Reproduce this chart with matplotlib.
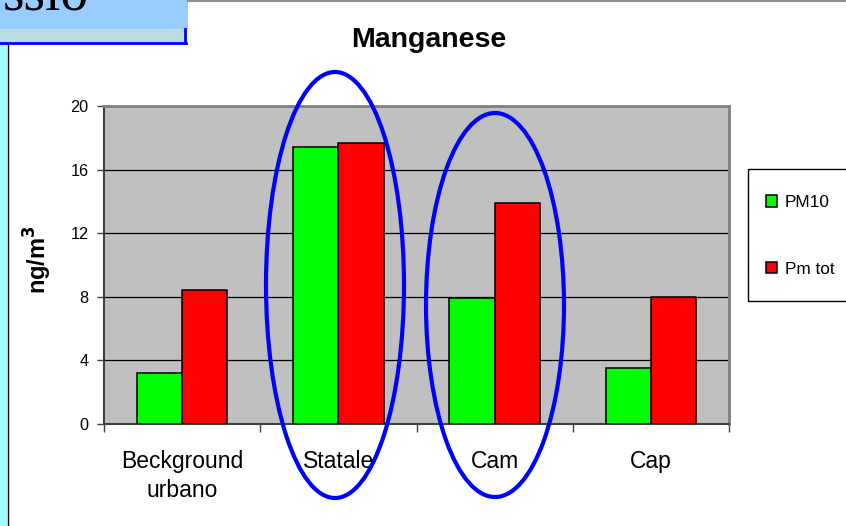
import numpy as np
import matplotlib.pyplot as plt
from matplotlib.patches import Rectangle, Ellipse
from matplotlib.lines import Line2D

categories = ["Beckground\nurbano", "Statale", "Cam", "Cap"]
pm10 = [3.2, 17.4, 7.9, 3.5]
pmtot = [8.4, 17.7, 13.9, 8.0]
series_names = ["PM10", "Pm tot"]
yticks = [0, 4, 8, 12, 16, 20]

W, H = 846, 526
plt.rcParams['font.family'] = ['Liberation Sans', 'DejaVu Sans']

fig = plt.figure(figsize=(W / 100, H / 100), dpi=100)


def fx(x):
    return x / W


def fy(y):
    return 1 - y / H


# slide decorations
fig.add_artist(Rectangle((0, fy(29)), fx(188), 29 / H, transform=fig.transFigure,
                         facecolor="#99ccff", edgecolor="none", zorder=1))
fig.add_artist(Rectangle((0, fy(43)), fx(186), 14 / H, transform=fig.transFigure,
                         facecolor="#b8dee0", edgecolor="none", zorder=1))
fig.add_artist(Line2D([0, fx(186)], [fy(43), fy(43)], transform=fig.transFigure,
                      color="#0000ff", lw=2, zorder=2))
fig.add_artist(Line2D([fx(185), fx(185)], [fy(29), fy(43)], transform=fig.transFigure,
                      color="#0000ff", lw=2, zorder=2))
fig.add_artist(Rectangle((0, 0), fx(7), fy(44), transform=fig.transFigure,
                         facecolor="#a0ffff", edgecolor="none", zorder=1))
fig.add_artist(Line2D([fx(7.5), fx(7.5)], [0, fy(44)], transform=fig.transFigure,
                      color="black", lw=1, zorder=2))
fig.add_artist(Line2D([fx(188), 1], [fy(0.5), fy(0.5)], transform=fig.transFigure,
                      color="#909090", lw=1.5, zorder=2))
fig.text(fx(3), fy(10), "ssio", family="Liberation Serif", fontsize=40,
         va="baseline", ha="left", zorder=3)

ax = fig.add_axes([fx(104), fy(424), fx(729) - fx(104), (424 - 106) / H])
ax.set_facecolor("#c0c0c0")

x = np.arange(len(categories))
bw = 0.29
b1 = ax.bar(x - bw / 2, pm10, bw, color="#00ff00", edgecolor="black", lw=1.1,
            label=series_names[0], zorder=3)
b2 = ax.bar(x + bw / 2, pmtot, bw, color="#ff0000", edgecolor="black", lw=1.1,
            label=series_names[1], zorder=3)

ax.set_xlim(-0.5, len(categories) - 0.5)
ax.set_ylim(0, 20)
ax.set_yticks(yticks)
ax.set_yticklabels([str(v) for v in yticks], fontsize=11.7)
ax.yaxis.grid(True, color="black", lw=0.9)
ax.set_axisbelow(True)

ax.set_xticks(np.arange(len(categories) + 1) - 0.5)
ax.set_xticklabels([])
ax.set_xticks(x, minor=True)
ax.set_xticklabels(categories, minor=True, fontsize=16.5, linespacing=1.3)
ax.tick_params(axis="x", which="minor", length=0, pad=19)
ax.tick_params(axis="x", which="major", length=6, color="#404040", width=1)
ax.tick_params(axis="y", length=5, color="#404040", width=1, pad=6)

for s in ["left", "bottom"]:
    ax.spines[s].set_color("#404040")
    ax.spines[s].set_linewidth(1.5)
for s in ["top", "right"]:
    ax.spines[s].set_color("#808080")
    ax.spines[s].set_linewidth(2)

fig.text(fx(429), fy(47), "Manganese", fontsize=20.5, fontweight="bold",
         ha="center", va="baseline")
fig.text(fx(38), fy(260), r"ng/m$^\mathbf{3}$", fontsize=17, fontweight="bold",
         rotation=90, ha="center", va="center")

# legend box
fig.add_artist(Rectangle((fx(748), fy(301)), fx(110), (301 - 169) / H,
                         transform=fig.transFigure, facecolor="white",
                         edgecolor="black", lw=1, zorder=4))
leg = fig.legend(handles=[b1, b2], loc="upper left",
                 bbox_to_anchor=(fx(766), fy(195)), frameon=False,
                 fontsize=12.4, handlelength=0.65, handleheight=0.65,
                 handletextpad=0.45, labelspacing=3.0, borderpad=0,
                 borderaxespad=0)
leg.set_zorder(5)

# highlight ellipses
for cx, cy, ew, eh in [(335, 285, 138, 426), (495, 305, 138, 384)]:
    fig.add_artist(Ellipse((fx(cx), fy(cy)), ew / W, eh / H, transform=fig.transFigure,
                           facecolor="none", edgecolor="#0000ff", lw=3, zorder=10))

fig.savefig("out.png", dpi=100)
